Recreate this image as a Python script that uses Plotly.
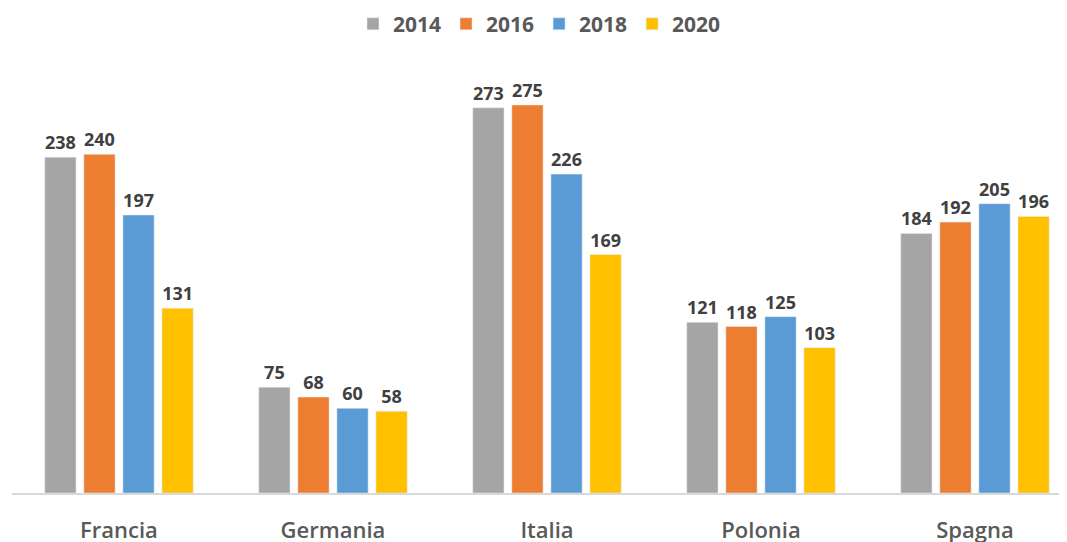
import plotly.graph_objects as go

categories = ["Francia", "Germania", "Italia", "Polonia", "Spagna"]
years = ["2014", "2016", "2018", "2020"]
v2014 = [238, 75, 273, 121, 184]
v2016 = [240, 68, 275, 118, 192]
v2018 = [197, 60, 226, 125, 205]
v2020 = [131, 58, 169, 103, 196]
colors = ["#a5a5a5", "#ed7d31", "#5b9bd5", "#ffc000"]

series = [v2014, v2016, v2018, v2020]

fig = go.Figure()
for name, vals, col in zip(years, series, colors):
    fig.add_trace(go.Bar(
        x=categories, y=vals, name=name, marker_color=col,
        text=[str(v) for v in vals], textposition="outside",
        textfont=dict(family="Open Sans", size=18, color="#404040", weight="bold"),
        cliponaxis=False,
    ))

# page has an 8px body margin; figure sized to fit the 1067x542 window
W, H = 1059, 534
top = 42
bottom = 49
plot_h = H - top - bottom
ymax = plot_h / 1.411

fig.update_layout(
    width=W, height=H,
    margin=dict(l=4, r=0, t=top, b=bottom, autoexpand=False),
    paper_bgcolor="white", plot_bgcolor="white",
    barmode="group", bargap=0.27, bargroupgap=0.2,
    showlegend=True,
    legend=dict(orientation="h", x=0.5, xanchor="center", yref="paper", y=1.012, yanchor="bottom",
                font=dict(family="Open Sans", size=21, color="#595959", weight="bold"),
                itemwidth=30, traceorder="normal"),
    xaxis=dict(range=[-0.5, 4.43], showline=True, linecolor="#d9d9d9", linewidth=2,
               automargin=False,
               ticks="", tickfont=dict(family="Open Sans", size=22, color="#595959", weight=600),
               ticklabelstandoff=17),
    yaxis=dict(range=[0, ymax], visible=False, showgrid=False, zeroline=False, automargin=False),
)
fig.write_html("out.html")
